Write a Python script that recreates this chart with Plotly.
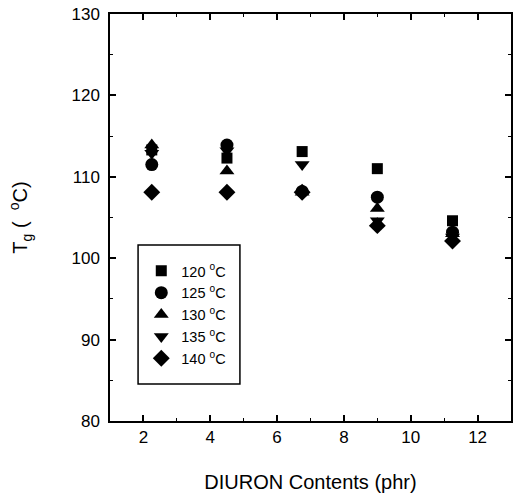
import plotly.graph_objects as go

x_contents = [2.25, 4.5, 6.75, 9.0, 11.25]
series_names = ["120 <sup>o</sup>C", "125 <sup>o</sup>C", "130 <sup>o</sup>C", "135 <sup>o</sup>C", "140 <sup>o</sup>C"]
tg_120 = [113.3, 112.3, 113.1, 111.0, 104.6]
tg_125 = [111.5, 113.9, 108.2, 107.5, 103.2]
tg_130 = [113.9, 110.7, 108.1, 106.1, 103.0]
tg_135 = [112.9, 113.2, 111.5, 104.6, 102.6]
tg_140 = [108.1, 108.1, 108.1, 104.0, 102.1]
series_values = [tg_120, tg_125, tg_130, tg_135, tg_140]
symbols = ["square", "circle", "triangle-up", "triangle-down", "diamond"]
sizes = [11, 13, 13, 13, 13]

fig = go.Figure()
for name, vals, sym, sz in zip(series_names, series_values, symbols, sizes):
    fig.add_trace(go.Scatter(x=x_contents, y=vals, mode="markers", name=name,
                             marker=dict(symbol=sym, size=sz, color="black")))

FONT = "Liberation Sans, Arial"
axis_common = dict(showline=True, linecolor="black", linewidth=1.5, mirror="allticks",
                   ticks="inside", ticklen=6, tickwidth=1.5, tickcolor="black",
                   showgrid=False, zeroline=False, automargin=False,
                   tickfont=dict(family=FONT, size=17, color="black"),
                   minor=dict(ticks="inside", ticklen=3, tickwidth=1, tickcolor="black"))

fig.update_layout(
    width=516, height=493,
    margin=dict(l=110, r=5, t=14, b=72),
    plot_bgcolor="white", paper_bgcolor="white",
    font=dict(family=FONT, color="black"),
    xaxis=dict(range=[1, 13], tickvals=[2, 4, 6, 8, 10, 12],
               title=dict(text="DIURON Contents (phr)", font=dict(size=20), standoff=30),
               **axis_common),
    yaxis=dict(range=[80, 130], tickvals=[80, 90, 100, 110, 120, 130],
               title=dict(text="T<sub>g</sub> (  <sup>o</sup>C)", font=dict(size=20), standoff=38),
               ticklabelstandoff=5,
               **axis_common),
    legend=dict(x=0.078, y=0.408, xanchor="left", yanchor="top",
                borderwidth=0, bgcolor="rgba(0,0,0,0)",
                font=dict(size=14.5), itemwidth=30, tracegroupgap=0),
    shapes=[dict(type="rect", xref="paper", yref="paper", x0=0.07, x1=0.324,
                 y0=(421 - 384) / 407, y1=(421 - 245) / 407,
                 line=dict(color="black", width=1.5), fillcolor="rgba(0,0,0,0)")],
    showlegend=True,
)
fig.update_xaxes(minor=dict(tick0=1, dtick=1))
fig.update_yaxes(minor=dict(tick0=80, dtick=5))

fig.write_html("out.html")
